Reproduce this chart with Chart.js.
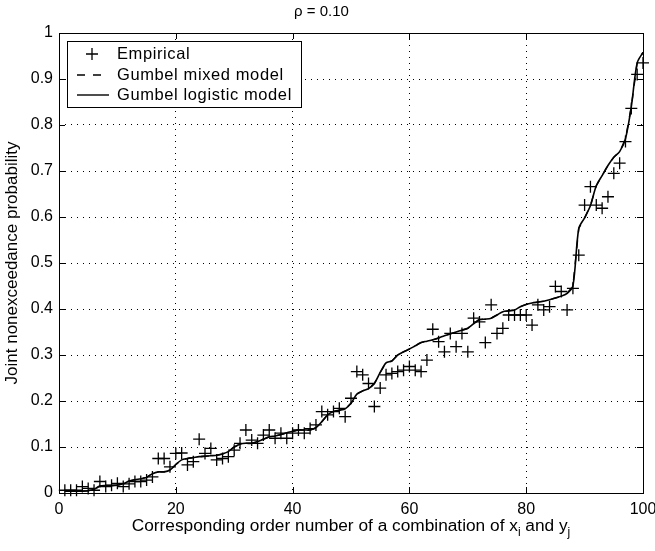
<!DOCTYPE html>
<html>
<head>
<meta charset="utf-8">
<script src="https://cdn.jsdelivr.net/npm/chart.js@4.4.1/dist/chart.umd.min.js"></script>
<style>
  html, body { margin: 0; padding: 0; background: #fff; }
  #wrap { width: 655px; height: 551px; position: relative; }
</style>
</head>
<body>
<div id="wrap"><canvas id="chart"></canvas></div>
<script>
// order numbers of the combinations (x axis)
const orderNumbers = [
  1, 2, 3, 4, 5, 6, 7, 8, 9, 10, 11, 12, 13, 14, 15, 16, 17, 18, 19, 20,
  21, 22, 23, 24, 25, 26, 27, 28, 29, 30, 31, 32, 33, 34, 35, 36, 37, 38, 39, 40,
  41, 42, 43, 44, 45, 46, 47, 48, 49, 50, 51, 52, 53, 54, 55, 56, 57, 58, 59, 60,
  61, 62, 63, 64, 65, 66, 67, 68, 69, 70, 71, 72, 73, 74, 75, 76, 77, 78, 79, 80,
  81, 82, 83, 84, 85, 86, 87, 88, 89, 90, 91, 92, 93, 94, 95, 96, 97, 98, 99, 100
];

// empirical joint nonexceedance probability
const empirical = [
  0.006, 0.006, 0.006, 0.014, 0.010, 0.006, 0.025, 0.014, 0.017, 0.021,
  0.014, 0.020, 0.025, 0.025, 0.028, 0.035, 0.075, 0.075, 0.057, 0.086,
  0.087, 0.061, 0.068, 0.117, 0.086, 0.097, 0.072, 0.075, 0.079, 0.093,
  0.108, 0.137, 0.115, 0.108, 0.126, 0.137, 0.119, 0.130, 0.119, 0.130,
  0.137, 0.130, 0.140, 0.148, 0.177, 0.170, 0.177, 0.184, 0.166, 0.206,
  0.264, 0.257, 0.238, 0.188, 0.228, 0.257, 0.260, 0.264, 0.267, 0.275,
  0.267, 0.264, 0.289, 0.356, 0.329, 0.307, 0.347, 0.318, 0.347, 0.307,
  0.380, 0.372, 0.327, 0.409, 0.347, 0.358, 0.387, 0.387, 0.387, 0.387,
  0.365, 0.409, 0.398, 0.405, 0.449, 0.438, 0.398, 0.445, 0.517, 0.626,
  0.666, 0.626, 0.619, 0.644, 0.695, 0.717, 0.764, 0.836, 0.910, 0.935
];

// Gumbel logistic model
const logisticModel = [
  0.004, 0.004, 0.004, 0.004, 0.005, 0.008, 0.015, 0.016, 0.016, 0.017,
  0.020, 0.026, 0.029, 0.031, 0.034, 0.042, 0.046, 0.046, 0.050, 0.062,
  0.072, 0.075, 0.077, 0.079, 0.080, 0.081, 0.082, 0.085, 0.090, 0.100,
  0.106, 0.108, 0.108, 0.112, 0.117, 0.122, 0.124, 0.127, 0.131, 0.134,
  0.137, 0.137, 0.137, 0.142, 0.155, 0.170, 0.177, 0.180, 0.183, 0.195,
  0.215, 0.222, 0.227, 0.238, 0.262, 0.283, 0.287, 0.300, 0.307, 0.313,
  0.320, 0.327, 0.330, 0.333, 0.337, 0.342, 0.346, 0.350, 0.354, 0.358,
  0.368, 0.377, 0.378, 0.380, 0.387, 0.394, 0.396, 0.398, 0.405, 0.410,
  0.413, 0.415, 0.417, 0.420, 0.424, 0.428, 0.434, 0.450, 0.575, 0.598,
  0.625, 0.668, 0.690, 0.712, 0.730, 0.742, 0.770, 0.840, 0.935, 0.958
];

// Gumbel mixed model - lies under the logistic curve in the picture
const mixedModel = logisticModel.slice();

const xTicks = [0, 20, 40, 60, 80, 100];
const yTicks = [0, 0.1, 0.2, 0.3, 0.4, 0.5, 0.6, 0.7, 0.8, 0.9, 1];
const yTickLabels = ['0', '0.1', '0.2', '0.3', '0.4', '0.5', '0.6', '0.7', '0.8', '0.9', '1'];

const FONT = '"Liberation Sans", Arial, Helvetica, sans-serif';

function toPoints(vals) {
  return vals.map((v, i) => ({ x: orderNumbers[i], y: v }));
}

// frame, inward tick marks, x label with subscripts and the legend box
const matlabLook = {
  id: 'matlabLook',
  afterDraw(chart) {
    const ctx = chart.ctx;
    const a = chart.chartArea;
    const xs = chart.scales.x, ys = chart.scales.y;
    ctx.save();
    ctx.strokeStyle = '#000';
    ctx.lineWidth = 1;
    ctx.strokeRect(Math.round(a.left) + 0.5, Math.round(a.top) + 0.5,
      Math.round(a.right - a.left), Math.round(a.bottom - a.top));

    const tl = 6;
    ctx.beginPath();
    xTicks.forEach(v => {
      const px = Math.round(xs.getPixelForValue(v)) + 0.5;
      ctx.moveTo(px, a.bottom); ctx.lineTo(px, a.bottom - tl);
      ctx.moveTo(px, a.top); ctx.lineTo(px, a.top + tl);
    });
    yTicks.forEach(v => {
      const py = Math.round(ys.getPixelForValue(v)) + 0.5;
      ctx.moveTo(a.left, py); ctx.lineTo(a.left + tl, py);
      ctx.moveTo(a.right, py); ctx.lineTo(a.right - tl, py);
    });
    ctx.stroke();

    // x axis title with subscripts
    ctx.fillStyle = '#000';
    ctx.textAlign = 'left';
    ctx.textBaseline = 'alphabetic';
    const big = '17.3px ' + FONT, small = '12px ' + FONT;
    const parts = [
      ['Corresponding order number of a combination of x', big, 0],
      ['i', small, 5],
      [' and y', big, 0],
      ['j', small, 5]
    ];
    let total = 0;
    parts.forEach(p => { ctx.font = p[1]; total += ctx.measureText(p[0]).width; });
    let cx = (a.left + a.right) / 2 - total / 2;
    const baseY = 531;
    parts.forEach(p => {
      ctx.font = p[1];
      ctx.fillText(p[0], cx, baseY + p[2]);
      cx += ctx.measureText(p[0]).width;
    });

    // legend
    const bx = 67.5, by = 41.5, bw = 234, bh = 66;
    ctx.fillStyle = '#fff';
    ctx.fillRect(bx, by, bw, bh);
    ctx.strokeRect(bx, by, bw, bh);
    ctx.fillStyle = '#000';
    ctx.font = '16.5px ' + FONT;
    ctx.letterSpacing = '0.6px';
    ctx.textBaseline = 'middle';
    const ds = chart.data.datasets;
    const rows = [54, 75, 95];
    // empirical cross
    ctx.beginPath();
    ctx.lineWidth = 1.3;
    ctx.moveTo(92, rows[0] - 6); ctx.lineTo(92, rows[0] + 6);
    ctx.moveTo(86, rows[0]); ctx.lineTo(98, rows[0]);
    ctx.stroke();
    // dashed
    ctx.beginPath();
    ctx.lineWidth = 1.4;
    ctx.setLineDash([8, 8]);
    ctx.moveTo(77, rows[1]); ctx.lineTo(109, rows[1]);
    ctx.stroke();
    ctx.setLineDash([]);
    // solid
    ctx.beginPath();
    ctx.moveTo(77, rows[2]); ctx.lineTo(109, rows[2]);
    ctx.stroke();
    ctx.fillText(ds[0].label, 117, rows[0]);
    ctx.fillText(ds[1].label, 117, rows[1]);
    ctx.fillText(ds[2].label, 117, rows[2]);
    ctx.restore();
  }
};

const ctx = document.getElementById('chart').getContext('2d');

const config = {
  type: 'scatter',
  data: {
    datasets: [
      {
        label: 'Empirical',
        data: toPoints(empirical),
        pointStyle: 'cross',
        pointRadius: 6,
        pointBorderWidth: 1.3,
        borderColor: '#000',
        backgroundColor: '#000',
        showLine: false,
        clip: false,
        order: 1
      },
      {
        label: 'Gumbel mixed model',
        type: 'line',
        data: toPoints(mixedModel),
        borderColor: '#000',
        borderWidth: 1.4,
        borderDash: [8, 8],
        pointRadius: 0,
        tension: 0,
        fill: false,
        order: 3
      },
      {
        label: 'Gumbel logistic model',
        type: 'line',
        data: toPoints(logisticModel),
        borderColor: '#000',
        borderWidth: 1.6,
        pointRadius: 0,
        tension: 0.3,
        fill: false,
        order: 2
      }
    ]
  },
  options: {
    responsive: false,
    animation: false,
    devicePixelRatio: 1,
    layout: { padding: { left: 0, right: 12, top: 0, bottom: 0 } },
    plugins: {
      legend: { display: false },
      tooltip: { enabled: false },
      title: {
        display: true,
        text: 'ρ = 0.10',
        color: '#000',
        font: { family: FONT, size: 15, weight: 'normal' },
        padding: { top: 3, bottom: 12 }
      }
    },
    scales: {
      x: {
        type: 'linear',
        min: 0,
        max: 100,
        afterBuildTicks: s => { s.ticks = xTicks.map(v => ({ value: v })); },
        afterFit: s => { s.height = 58; s.paddingLeft = 0; s.paddingRight = 0; },
        ticks: {
          color: '#000',
          font: { family: FONT, size: 16 },
          padding: 7,
          maxRotation: 0
        },
        grid: { color: '#000', lineWidth: 1, drawTicks: false },
        border: { display: false, dash: [1, 5] }
      },
      y: {
        type: 'linear',
        min: 0,
        max: 1,
        afterBuildTicks: s => { s.ticks = yTicks.map(v => ({ value: v })); },
        afterFit: s => { s.width = 59; s.paddingTop = 0; s.paddingBottom = 0; },
        ticks: {
          color: '#000',
          font: { family: FONT, size: 16 },
          padding: 6,
          callback: (v) => yTickLabels[yTicks.findIndex(t => Math.abs(t - v) < 1e-9)]
        },
        title: {
          display: true,
          text: 'Joint nonexceedance probability',
          color: '#000',
          font: { family: FONT, size: 17 },
          padding: { top: 2, bottom: 0 }
        },
        grid: { color: '#000', lineWidth: 1, drawTicks: false },
        border: { display: false, dash: [1, 5] }
      }
    }
  },
  plugins: [matlabLook]
};

const canvas = document.getElementById('chart');
canvas.width = 655;
canvas.height = 551;
const probChart = new Chart(ctx, config);
</script>
</body>
</html>
